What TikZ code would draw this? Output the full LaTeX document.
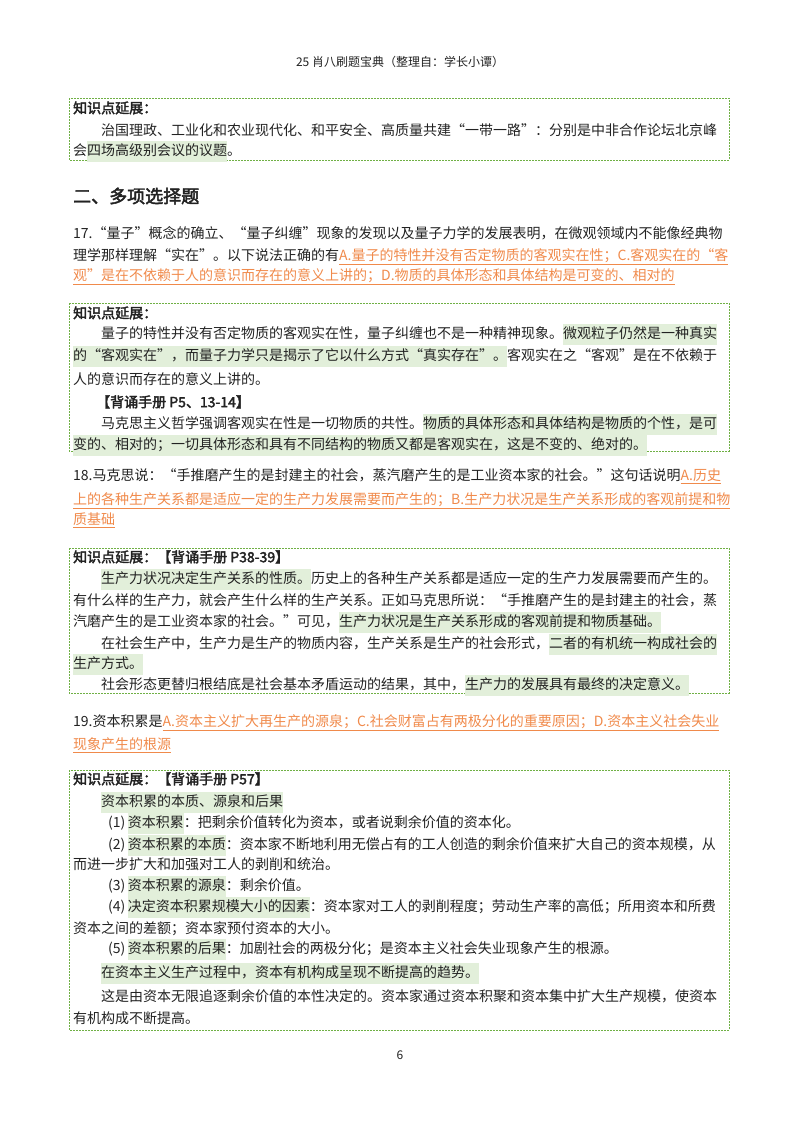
\documentclass[tikz,border=0pt]{standalone}
\usepackage{fontspec}
\setmainfont{Noto Sans CJK SC}[AutoFakeBold=2.5]
\XeTeXlinebreaklocale "zh"
\XeTeXlinebreakskip=0pt plus 3pt
\definecolor{hlg}{HTML}{E2EFDA}
\definecolor{boxg}{HTML}{70B045}
\definecolor{org}{HTML}{F08A4B}
\definecolor{txt}{HTML}{222222}
\newcommand{\hlx}[1]{{\setlength{\fboxsep}{0pt}\colorbox{hlg}{\strut #1}}}
\newcommand{\ulx}[1]{{\color{org}\underline{#1}}}
\newcommand{\kzx}{\textbf{知识点延展：}}
\tikzset{
 ln/.style={anchor=west,inner sep=0pt,text=txt,font=\fontsize{14}{21}\selectfont},
 kbox/.style={draw=boxg,line width=0.8pt,dash pattern=on 1.6pt off 1.4pt},
}
\newcommand{\full}[4]{\node[ln] at (#1,#2) {\makebox[#3pt][s]{\strut #4}};}
\newcommand{\nat}[3]{\node[ln] at (#1,#2) {\strut #3};}
\begin{document}
\begin{tikzpicture}[x=1pt,y=-1pt]
\useasboundingbox (0,0) rectangle (800,1132);
\node[font=\fontsize{12}{14}\selectfont,text=txt] (hdr) at (400,62) {25 肖八刷题宝典（整理自：学长小谭）};
% box1
\draw[kbox] (69,98) rectangle (729,160);
\nat{73}{109}{\kzx}
\full{101}{131}{626}{治国理政、工业化和农业现代化、和平安全、高质量共建“一带一路”：分别是中非合作论坛北京峰}
\nat{73}{151}{会\hlx{四场高级别会议的议题}。}
\node[ln,font=\fontsize{18}{22}\selectfont\bfseries] (h2) at (73,196) {二、多项选择题};
% Q17
\full{73}{234}{654}{17.“量子”概念的确立、“量子纠缠”现象的发现以及量子力学的发展表明，在微观领域内不能像经典物}
\full{73}{256}{654}{理学那样理解“实在”。以下说法正确的有\ulx{A.量子的特性并没有否定物质的客观实在性；C.客观实在的“客}}
\nat{73}{276}{\ulx{观”是在不依赖于人的意识而存在的意义上讲的；D.物质的具体形态和具体结构是可变的、相对的}}
% box2
\draw[kbox] (69,303) rectangle (729,451);
\nat{73}{314}{\kzx}
\full{101}{334}{626}{量子的特性并没有否定物质的客观实在性，量子纠缠也不是一种精神现象。\hlx{微观粒子仍然是一种真实}}
\full{73}{356}{654}{\hlx{的“客观实在”，而量子力学只是揭示了它以什么方式“真实存在”。}客观实在之“客观”是在不依赖于}
\nat{73}{380}{人的意识而存在的意义上讲的。}
\nat{96}{403}{\textbf{【背诵手册 P5、13-14】}}
\full{101}{424}{626}{马克思主义哲学强调客观实在性是一切物质的共性。\hlx{物质的具体形态和具体结构是物质的个性，是可}}
\nat{73}{445}{\hlx{变的、相对的；一切具体形态和具有不同结构的物质又都是客观实在，这是不变的、绝对的。}}
% Q18
\full{73}{476}{654}{18.马克思说：“手推磨产生的是封建主的社会，蒸汽磨产生的是工业资本家的社会。”这句话说明\ulx{A.历史}}
\full{73}{500}{654}{\ulx{上的各种生产关系都是适应一定的生产力发展需要而产生的；B.生产力状况是生产关系形成的客观前提和物}}
\nat{73}{520}{\ulx{质基础}}
% box3
\draw[kbox] (69,548) rectangle (729,693);
\nat{73}{558}{\kzx\textbf{【背诵手册 P38-39】}}
\full{101}{579}{626}{\hlx{生产力状况决定生产关系的性质。}历史上的各种生产关系都是适应一定的生产力发展需要而产生的。}
\full{73}{601}{654}{有什么样的生产力，就会产生什么样的生产关系。正如马克思所说：“手推磨产生的是封建主的社会，蒸}
\nat{73}{622}{汽磨产生的是工业资本家的社会。”可见，\hlx{生产力状况是生产关系形成的客观前提和物质基础。}}
\full{101}{644}{626}{在社会生产中，生产力是生产的物质内容，生产关系是生产的社会形式，\hlx{二者的有机统一构成社会的}}
\nat{73}{664}{\hlx{生产方式。}}
\nat{101}{685}{社会形态更替归根结底是社会基本矛盾运动的结果，其中，\hlx{生产力的发展具有最终的决定意义。}}
% Q19
\full{73}{722}{654}{19.资本积累是\ulx{A.资本主义扩大再生产的源泉；C.社会财富占有两极分化的重要原因；D.资本主义社会失业}}
\nat{73}{745}{\ulx{现象产生的根源}}
% box4
\draw[kbox] (69,770) rectangle (729,1030);
\nat{73}{780}{\kzx\textbf{【背诵手册 P57】}}
\nat{101}{802}{\hlx{资本积累的本质、源泉和后果}}
\nat{108}{823}{(1)\,\hlx{资本积累}：把剩余价值转化为资本，或者说剩余价值的资本化。}
\full{108}{845}{619}{(2)\,\hlx{资本积累的本质}：资本家不断地利用无偿占有的工人创造的剩余价值来扩大自己的资本规模，从}
\nat{73}{865}{而进一步扩大和加强对工人的剥削和统治。}
\nat{108}{886}{(3)\,\hlx{资本积累的源泉}：剩余价值。}
\full{108}{907}{619}{(4)\,\hlx{决定资本积累规模大小的因素}：资本家对工人的剥削程度；劳动生产率的高低；所用资本和所费}
\nat{73}{929}{资本之间的差额；资本家预付资本的大小。}
\nat{108}{949}{(5)\,\hlx{资本积累的后果}：加剧社会的两极分化；是资本主义社会失业现象产生的根源。}
\nat{101}{973}{\hlx{在资本主义生产过程中，资本有机构成呈现不断提高的趋势。}}
\full{101}{997}{626}{这是由资本无限追逐剩余价值的本性决定的。资本家通过资本积聚和资本集中扩大生产规模，使资本}
\nat{73}{1019}{有机构成不断提高。}
\node[font=\fontsize{12}{14}\selectfont,text=txt] (pg) at (400,1055) {6};
\end{tikzpicture}
\end{document}
